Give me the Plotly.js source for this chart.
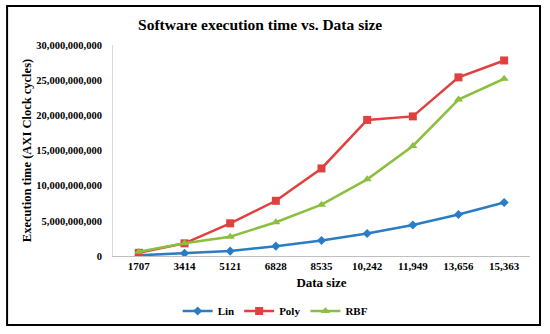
<!DOCTYPE html>
<html>
<head>
<meta charset="utf-8">
<script src="https://cdn.plot.ly/plotly-3.0.1.min.js"></script>
<style>
html,body{margin:0;padding:0;background:#fff;}
#chart{width:550px;height:334px;}
</style>
</head>
<body>
<div id="chart"></div>
<script>
var categories = ['1707','3414','5121','6828','8535','10,242','11,949','13,656','15,363'];
var linValues  = [0.10e9, 0.38e9, 0.70e9, 1.40e9, 2.20e9, 3.20e9, 4.40e9, 5.90e9, 7.60e9];
var polyValues = [0.45e9, 1.80e9, 4.65e9, 7.85e9, 12.45e9, 19.35e9, 19.85e9, 25.40e9, 27.80e9];
var rbfValues  = [0.60e9, 1.80e9, 2.75e9, 4.80e9, 7.30e9, 10.90e9, 15.65e9, 22.25e9, 25.20e9];
var seriesNames = ['Lin','Poly','RBF'];

var serif = 'Liberation Serif, Times New Roman, serif';
function tr(name, vals, color, symbol, size){
  return {x: categories, y: vals, name: name, type: 'scatter', mode: 'lines+markers',
    line: {color: color, width: 2.5}, marker: {symbol: symbol, size: size, color: color}};
}
var data = [
  tr(seriesNames[0], linValues, '#2A7DC4', 'diamond', 7),
  tr(seriesNames[1], polyValues, '#E0403E', 'square', 8),
  tr(seriesNames[2], rbfValues, '#8CBF3F', 'triangle-up', 8)
];
var layout = {
  width: 550, height: 334,
  margin: {l: 113, r: 20, t: 45, b: 78},
  paper_bgcolor: '#fff', plot_bgcolor: '#fff',
  font: {family: serif, color: '#000', size: 11},
  title: {text: '<b>Software execution time vs. Data size</b>', font: {family: serif, size: 15.5, color: '#000'}, x: 0.473, xanchor: 'center', y: 0.925, yanchor: 'middle'},
  xaxis: {type: 'category', showgrid: false, showline: true, linecolor: '#bfbfbf', linewidth: 1, automargin: false,
    tickfont: {family: serif, size: 11, color: '#000', weight: 'bold'}, ticks: '',
    title: {text: '<b>Data size</b>', font: {family: serif, size: 13, color: '#000'}, standoff: 6}},
  yaxis: {range: [0, 30e9], dtick: 5e9, tickformat: ',d', showgrid: false, showline: true, linecolor: '#d9d9d9', linewidth: 1,
    zeroline: false, ticks: '', automargin: false, ticklabelstandoff: 8, tickfont: {family: serif, size: 10.5, color: '#000', weight: 'bold'},
    title: {text: '<b>Execution time (AXI Clock cycles)</b>', font: {family: serif, size: 12.5, color: '#000'}, standoff: 1}},
  legend: {orientation: 'h', x: 0.39, xanchor: 'center', yref: 'container', y: 0.069, yanchor: 'middle', bgcolor: 'rgba(0,0,0,0)',
    font: {family: serif, size: 11, color: '#000', weight: 'bold'}, itemwidth: 30, tracegroupgap: 0},
  showlegend: true,
  shapes: [{type: 'rect', xref: 'paper', yref: 'paper', x0: -0.254, x1: 1.024, y0: -0.327, y1: 1.185,
    line: {color: '#000', width: 2}, fillcolor: 'rgba(0,0,0,0)', layer: 'below'}]
};
Plotly.newPlot('chart', data, layout, {displayModeBar: false, staticPlot: true});
</script>
</body>
</html>
